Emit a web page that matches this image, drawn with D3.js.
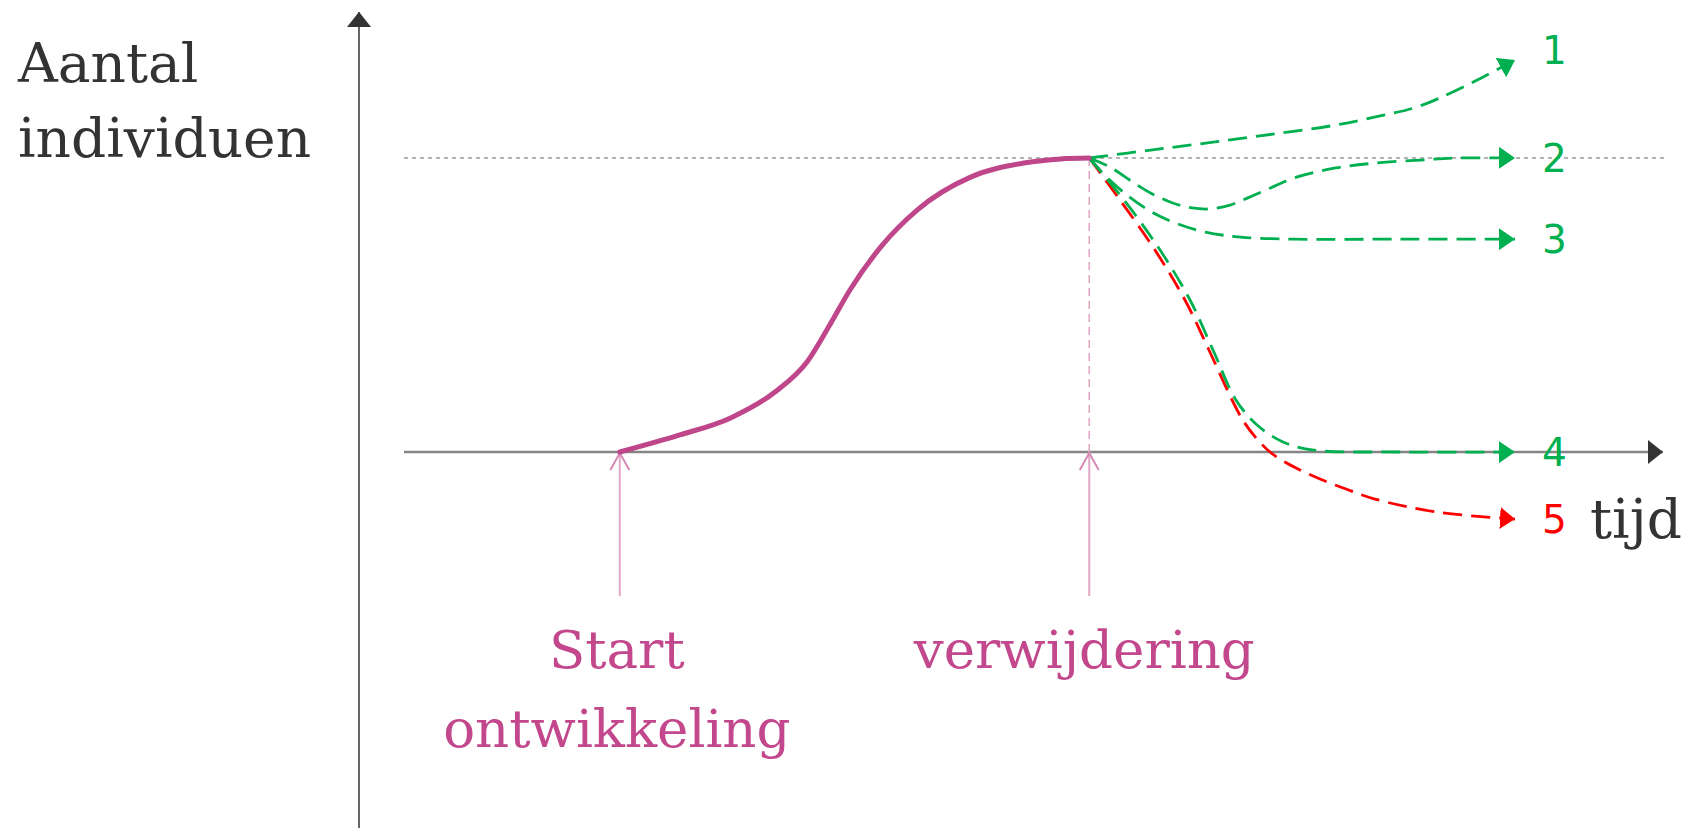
<!DOCTYPE html>
<html><head><meta charset="utf-8">
<script src="https://cdn.jsdelivr.net/npm/d3@7"></script>
<style>html,body{margin:0;padding:0;background:#fff;overflow:hidden}</style>
</head><body><svg id="chart" width="1688" height="828"></svg>
<script>
// ---------- data (time units, number of individuals as % of peak) ----------
const growthTime  = [20, 24.6, 28.5, 31.9, 34.4, 36.1, 37.65, 40.0, 42.8, 46.9, 51.0, 53.8, 56];
const growthCount = [0, 5.8, 11.6, 20.4, 30.9, 43.2, 55.1, 69.7, 82.3, 93.5, 98.3, 99.7, 100];

const scenario1Time  = [56, 60.7, 65.5, 70.2, 74.9, 78.3, 81.1, 84.2, 88.65];
const scenario1Count = [100, 102.7, 105.4, 108.2, 111.2, 114.3, 117.3, 123.1, 133.3];

const scenario2Time  = [56, 57.6, 59.1, 60.7, 62.4, 63.9, 65.3, 66.8, 68.3, 69.9, 71.7, 74.9, 78.0, 81.4, 84.2, 88.65];
const scenario2Count = [100, 96.9, 92.5, 88.1, 84.7, 83.0, 82.7, 84.0, 86.7, 89.8, 93.2, 96.6, 98.3, 99.3, 100, 100];

const scenario3Time  = [56, 57.4, 59.1, 60.8, 62.6, 64.9, 67.6, 71.7, 79.8, 88.65];
const scenario3Count = [100, 93.2, 86.7, 81.6, 77.9, 74.8, 73.1, 72.4, 72.4, 72.4];

const scenario4Time  = [56, 58.67, 61.43, 63.73, 65.49, 67.25, 68.87, 70.86, 73.08, 79.83, 88.65];
const scenario4Count = [100, 85.7, 68.7, 51.7, 34.7, 17.7, 9.2, 3.4, 0.7, 0, 0];

const scenario5Time  = [56, 58.36, 61.04, 63.34, 65.18, 66.95, 67.87, 68.79, 69.86, 71.01, 72.16, 73.70, 75.69, 77.91, 82.59, 88.65];
const scenario5Count = [100, 85.7, 68.7, 51.7, 34.7, 17.7, 10.2, 4.8, 0, -3.4, -6.1, -9.2, -12.6, -16.0, -20.4, -22.8];

const scenarioLabels = ["1", "2", "3", "4", "5"];
const scenarioColors = ["#00b050", "#00b050", "#00b050", "#00b050", "#ff0000"];
const eventTimes  = [20, 56];
const eventLabels = [["Start", "ontwikkeling"], ["verwijdering"]];
const yTitle = ["Aantal", "individuen"];
const xTitle = "tijd";

// ---------- layout ----------
const svg = d3.select("#chart");
const x = d3.scaleLinear().domain([0, 100]).range([359, 1663]);
const y = d3.scaleLinear().domain([0, 100]).range([452, 158]);
const purple = "#bf468b";
const pinkText = "#c2478c";
const lightPink = "#e3a6c6";

const defs = svg.append("defs");
function tri(id, color, len, half) {
  defs.append("marker").attr("id", id)
    .attr("markerUnits", "userSpaceOnUse")
    .attr("viewBox", `0 0 ${len} ${half * 2}`)
    .attr("markerWidth", len).attr("markerHeight", half * 2)
    .attr("refX", len).attr("refY", half)
    .attr("orient", "auto")
    .append("path").attr("d", `M0,0 L${len},${half} L0,${half * 2} Z`).attr("fill", color);
}
tri("arrAxis", "#333", 15, 12);
tri("arrGreen", "#00b050", 16, 11);
tri("arrRed", "#ff0000", 15, 11);

// reference level (dotted)
svg.append("line")
  .attr("x1", x(3.45)).attr("x2", x(100.15))
  .attr("y1", y(100)).attr("y2", y(100))
  .attr("stroke", "#b3b3b3").attr("stroke-width", 2.2).attr("stroke-dasharray", "4,4");

// x axis
svg.append("line")
  .attr("x1", x(3.45)).attr("x2", x(100))
  .attr("y1", y(0)).attr("y2", y(0))
  .attr("stroke", "#858585").attr("stroke-width", 2.4)
  .attr("marker-end", "url(#arrAxis)");
// y axis
svg.append("line")
  .attr("x1", x(0)).attr("x2", x(0))
  .attr("y1", y(-128)).attr("y2", y(149.7))
  .attr("stroke", "#666").attr("stroke-width", 2)
  .attr("marker-end", "url(#arrAxis)");

// removal dashed vertical
svg.append("line")
  .attr("x1", x(eventTimes[1])).attr("x2", x(eventTimes[1]))
  .attr("y1", y(100)).attr("y2", y(0))
  .attr("stroke", lightPink).attr("stroke-width", 1.6).attr("stroke-dasharray", "8,5");

// event arrows
eventTimes.forEach(t => {
  const cx = x(t), top = y(0), bottom = y(-49);
  svg.append("line").attr("x1", cx).attr("x2", cx).attr("y1", top).attr("y2", bottom)
    .attr("stroke", lightPink).attr("stroke-width", 2);
  svg.append("path").attr("d", `M${cx - 9.5},${top + 18} L${cx},${top + 1} L${cx + 9.5},${top + 18}`)
    .attr("fill", "none").attr("stroke", "#d58ab4").attr("stroke-width", 2);
});

const growthLine = d3.line().x(d => x(d[0])).y(d => y(d[1])).curve(d3.curveMonotoneX);
const scenLine = d3.line().x(d => x(d[0])).y(d => y(d[1])).curve(d3.curveCatmullRom.alpha(0.5));
const zip = (a, b) => a.map((v, i) => [v, b[i]]);

// scenarios (red drawn first, greens on top)
const scenarioData = [
  zip(scenario1Time, scenario1Count),
  zip(scenario2Time, scenario2Count),
  zip(scenario3Time, scenario3Count),
  zip(scenario4Time, scenario4Count),
  zip(scenario5Time, scenario5Count)
];
[4, 0, 1, 2, 3].forEach(i => {
  svg.append("path").attr("d", scenLine(scenarioData[i]))
    .attr("fill", "none").attr("stroke", scenarioColors[i])
    .attr("stroke-width", 2.8).attr("stroke-dasharray", "19,9")
    .attr("marker-end", i === 4 ? "url(#arrRed)" : "url(#arrGreen)");
});

// growth curve
svg.append("path").attr("d", growthLine(zip(growthTime, growthCount)))
  .attr("fill", "none").attr("stroke", purple).attr("stroke-width", 5).attr("stroke-linecap", "round");

// scenario labels
const ends = scenarioData.map(a => a[a.length - 1][1]);
const labelShift = [-10, 0, 0, 0, 0];
scenarioLabels.forEach((lab, i) => {
  svg.append("text").text(lab)
    .attr("x", x(88.65) + 27).attr("y", y(ends[i]) + labelShift[i] + 14)
    .attr("font-family", "DejaVu Sans").attr("font-size", 39)
    .attr("fill", scenarioColors[i]);
});

// titles
const serif = "'DejaVu Serif', serif";
yTitle.forEach((t, i) => {
  svg.append("text").text(t).attr("x", 18).attr("y", 82 + i * 75)
    .attr("font-family", serif).attr("font-size", 55).attr("fill", "#333");
});
svg.append("text").text(xTitle).attr("x", 1590).attr("y", 538)
  .attr("font-family", serif).attr("font-size", 55).attr("fill", "#333");

// event labels
eventLabels.forEach((lines, j) => {
  lines.forEach((t, i) => {
    svg.append("text").text(t)
      .attr("x", x(eventTimes[j]) - (j === 0 ? 3 : 5)).attr("y", 668 + i * 79)
      .attr("text-anchor", "middle")
      .attr("font-family", serif).attr("font-size", 53).attr("fill", pinkText);
  });
});
</script></body></html>
